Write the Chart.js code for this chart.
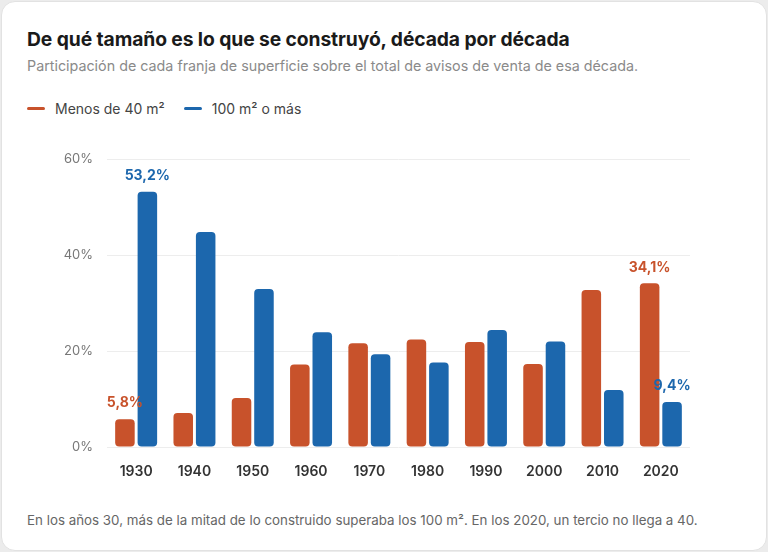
<!DOCTYPE html>
<html lang="es">
<head>
<meta charset="utf-8">
<script src="https://cdn.jsdelivr.net/npm/chart.js@4.4.1/dist/chart.umd.min.js"></script>
<style>
  html, body { margin: 0; padding: 0; background: #ececec; }
  body { width: 768px; height: 552px; position: relative; overflow: hidden; font-family: Inter, "Noto Sans", sans-serif; }
  .card { position: absolute; left: 1px; top: 1px; width: 764px; height: 548px; background: #fff; border: 1px solid #e2e2e2; border-radius: 14px; }
  .title { position: absolute; left: 27px; top: 27px; font-size: 19.3px; font-weight: 700; color: #1a1a1a; white-space: nowrap; letter-spacing: -0.1px; }
  .subtitle { position: absolute; left: 27px; top: 57px; font-size: 14.3px; color: #8a8a8a; white-space: nowrap; }
  .legend { position: absolute; left: 27px; top: 100px; font-size: 14px; color: #444; display: flex; align-items: center; white-space: nowrap; }
  .legend .item { display: flex; align-items: center; margin-right: 19px; }
  .legend .sw { width: 18px; height: 3px; border-radius: 2px; margin-right: 10px; }
  .foot { position: absolute; left: 27px; top: 512px; font-size: 13.35px; color: #666; white-space: nowrap; }
  #wrap { position: absolute; left: 0; top: 131px; width: 768px; height: 360px; }
</style>
</head>
<body>
<div class="card"></div>
<div class="title">De qué tamaño es lo que se construyó, década por década</div>
<div class="subtitle">Participación de cada franja de superficie sobre el total de avisos de venta de esa década.</div>
<div class="legend" id="legend"></div>
<div class="foot">En los años 30, más de la mitad de lo construido superaba los 100 m². En los 2020, un tercio no llega a 40.</div>
<div id="wrap"><canvas id="c"></canvas></div>
<script>
const decades = ["1930","1940","1950","1960","1970","1980","1990","2000","2010","2020"];
const seriesNames = ["Menos de 40 m²", "100 m² o más"];
const menos40 = [5.8, 7.1, 10.2, 17.2, 21.6, 22.4, 21.9, 17.3, 32.7, 34.1];
const cien = [53.2, 44.8, 32.9, 23.9, 19.3, 17.6, 24.4, 22.0, 11.9, 9.4];
const yTicks = [0, 20, 40, 60];
// labelled bars: [datasetIndex, categoryIndex]
const labelled = [[0,0],[1,0],[0,9],[1,9]];

const colors = ["#c8522b", "#1c67ad"];

const legend = document.getElementById('legend');
seriesNames.forEach((n, i) => {
  const it = document.createElement('div'); it.className = 'item';
  const sw = document.createElement('div'); sw.className = 'sw'; sw.style.background = colors[i];
  const tx = document.createElement('span'); tx.textContent = n;
  it.appendChild(sw); it.appendChild(tx); legend.appendChild(it);
});

const fmt = v => v.toFixed(1).replace('.', ',') + '%';

const valueLabels = {
  id: 'valueLabels',
  afterDatasetsDraw(chart) {
    const ctx = chart.ctx;
    ctx.save();
    ctx.font = '700 14px Inter, "Noto Sans", sans-serif';
    ctx.textAlign = 'center';
    ctx.textBaseline = 'middle';
    labelled.forEach(([d, i]) => {
      const el = chart.getDatasetMeta(d).data[i];
      const v = chart.data.datasets[d].data[i];
      ctx.fillStyle = colors[d];
      ctx.fillText(fmt(v), el.x, el.y - 16);
    });
    ctx.restore();
  }
};

new Chart(document.getElementById('c'), {
  type: 'bar',
  data: {
    labels: decades,
    datasets: [
      { label: seriesNames[0], data: menos40, backgroundColor: colors[0] },
      { label: seriesNames[1], data: cien, backgroundColor: colors[1] }
    ]
  },
  options: {
    responsive: true,
    maintainAspectRatio: false,
    animation: false,
    devicePixelRatio: 1,
    categoryPercentage: 0.77,
    barPercentage: 0.87,
    borderRadius: 4,
    borderSkipped: false,
    layout: { padding: { left: 0, right: 78, top: 28, bottom: 0 } },
    plugins: { legend: { display: false }, tooltip: { enabled: false }, title: { display: false } },
    scales: {
      x: {
        grid: { display: false, drawTicks: false },
        border: { display: false },
        ticks: { padding: 16, color: '#333', font: { family: 'Inter, "Noto Sans", sans-serif', size: 14, weight: '600' } },
        afterFit(s) { s.height = 44; }
      },
      y: {
        min: 0, max: 60,
        afterBuildTicks(s) { s.ticks = yTicks.map(v => ({ value: v })); },
        grid: { color: '#ededed', drawTicks: false, lineWidth: 1 },
        border: { display: false },
        ticks: { padding: 14, color: '#777', font: { family: 'Inter, "Noto Sans", sans-serif', size: 13 }, callback: v => v + '%' },
        afterFit(s) { s.width = 107; }
      }
    }
  },
  plugins: [valueLabels]
});
</script>
</body>
</html>
